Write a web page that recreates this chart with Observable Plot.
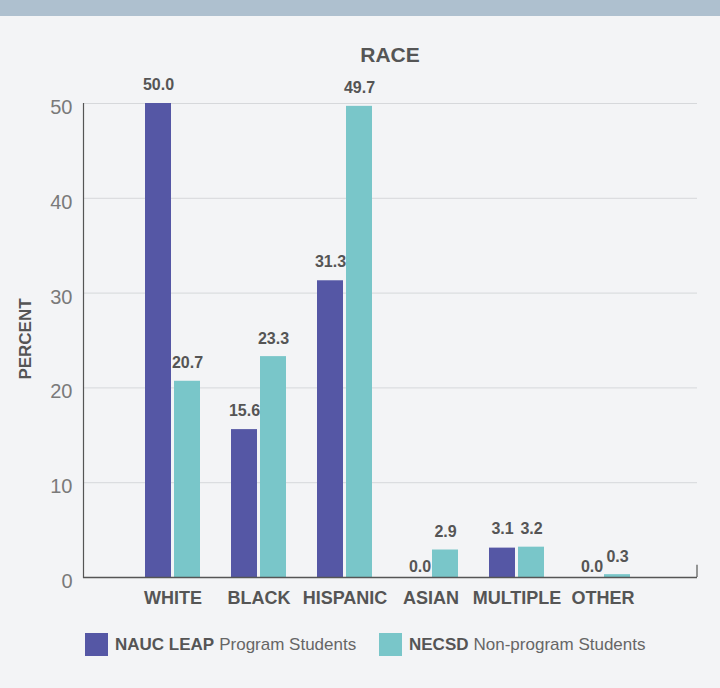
<!DOCTYPE html>
<html>
<head>
<meta charset="utf-8">
<script src="https://cdn.jsdelivr.net/npm/d3@7"></script>
<script src="https://cdn.jsdelivr.net/npm/@observablehq/plot@0.6"></script>
<style>
  html, body { margin: 0; padding: 0; background: #f3f4f6; }
  body { width: 720px; height: 688px; position: relative; overflow: hidden; font-family: "Liberation Sans", Arial, sans-serif; color: #555; }
  #banner { position: absolute; left: 0; top: 0; width: 720px; height: 16px; background: #aec0cf; }
  #title { position: absolute; left: 83px; top: 44px; width: 614px; text-align: center; font-size: 21px; line-height: 21px; font-weight: bold; color: #555; }
  #ylabel { position: absolute; left: 25px; top: 339px; transform: translate(-50%, -50%) rotate(-90deg); font-size: 17px; line-height: 17px; font-weight: bold; color: #555; white-space: nowrap; }
  #chart { position: absolute; left: 0; top: 70px; }
  .legend-item { position: absolute; top: 633px; height: 23px; display: flex; align-items: center; font-size: 17px; line-height: 23px; color: #666; white-space: nowrap; }
  .swatch { width: 23px; height: 23px; margin-right: 7px; }
  .legend-item b { color: #555; margin-right: 5px; }
</style>
</head>
<body>
<div id="banner"></div>
<div id="title">RACE</div>
<div id="ylabel">PERCENT</div>
<div id="chart"></div>
<div id="legend"></div>
<script>
const categories = ["WHITE", "BLACK", "HISPANIC", "ASIAN", "MULTIPLE", "OTHER"];
const leapValues = [50.0, 15.6, 31.3, 0.0, 3.1, 0.0];
const necsdValues = [20.7, 23.3, 49.7, 2.9, 3.2, 0.3];
const yTicks = [0, 10, 20, 30, 40, 50];
const seriesNames = [["NAUC LEAP", "Program Students"], ["NECSD", "Non-program Students"]];
const colors = ["#5557a5", "#79c6c9"];

const table = categories.map((c, i) => ({category: c, leap: leapValues[i], necsd: necsdValues[i]}));

const rightTick = (index, scales, values, dimensions) => {
  const x = dimensions.width - dimensions.marginRight;
  const line = d3.create("svg:line")
    .attr("x1", x).attr("x2", x)
    .attr("y1", scales.y(0)).attr("y2", scales.y(1.3))
    .attr("stroke", "#555").attr("stroke-width", 1.2);
  return line.node();
};

const labelStyle = {fontSize: 16, fontWeight: "bold", fill: "#555"};

const plot = Plot.plot({
  width: 720,
  height: 550,
  marginTop: 33,
  marginBottom: 43,
  marginLeft: 83,
  marginRight: 23,
  style: {background: "transparent", fontFamily: "'Liberation Sans', Arial, sans-serif", color: "#555"},
  x: {domain: categories, paddingInner: 0.362, paddingOuter: 0.742, align: 0.48, label: null},
  y: {domain: [0, 50], label: null},
  marks: [
    Plot.gridY(yTicks.filter(t => t > 0), {stroke: "#d6d8db", strokeOpacity: 1, strokeWidth: 1}),
    Plot.barY(table, {x: "category", y: "leap", fill: colors[0], insetRight: 29}),
    Plot.barY(table, {x: "category", y: "necsd", fill: colors[1], insetLeft: 29}),
    Plot.ruleY([0], {stroke: "#555", strokeWidth: 1.5}),
    Plot.frame({anchor: "left", stroke: "#555", strokeWidth: 1.2}),
    rightTick,
    Plot.text(table, {filter: d => d.leap > 0, x: "category", y: "leap", text: d => d.leap.toFixed(1), dx: -14.5, dy: -19, ...labelStyle}),
    Plot.text(table, {filter: d => d.leap === 0, x: "category", y: "leap", text: d => d.leap.toFixed(1), dx: -11, dy: -11, ...labelStyle}),
    Plot.text(table, {x: "category", y: "necsd", text: d => d.necsd.toFixed(1), dx: 14.5, dy: -18, ...labelStyle}),
    Plot.axisY({ticks: yTicks, tickSize: 0, tickPadding: 11, fontSize: 20, fill: "#7a7a7a", dy: 4, label: null}),
    Plot.axisX({tickSize: 0, tickPadding: 14, fontSize: 18, fontWeight: "bold", fill: "#555", label: null})
  ]
});
document.getElementById("chart").appendChild(plot);

const legend = document.getElementById("legend");
const legendLefts = [85, 379];
seriesNames.forEach(([bold, rest], i) => {
  const item = document.createElement("div");
  item.className = "legend-item";
  item.style.left = legendLefts[i] + "px";
  item.innerHTML = `<span class="swatch" style="background:${colors[i]}"></span><b>${bold}</b><span>${rest}</span>`;
  legend.appendChild(item);
});
</script>
</body>
</html>
